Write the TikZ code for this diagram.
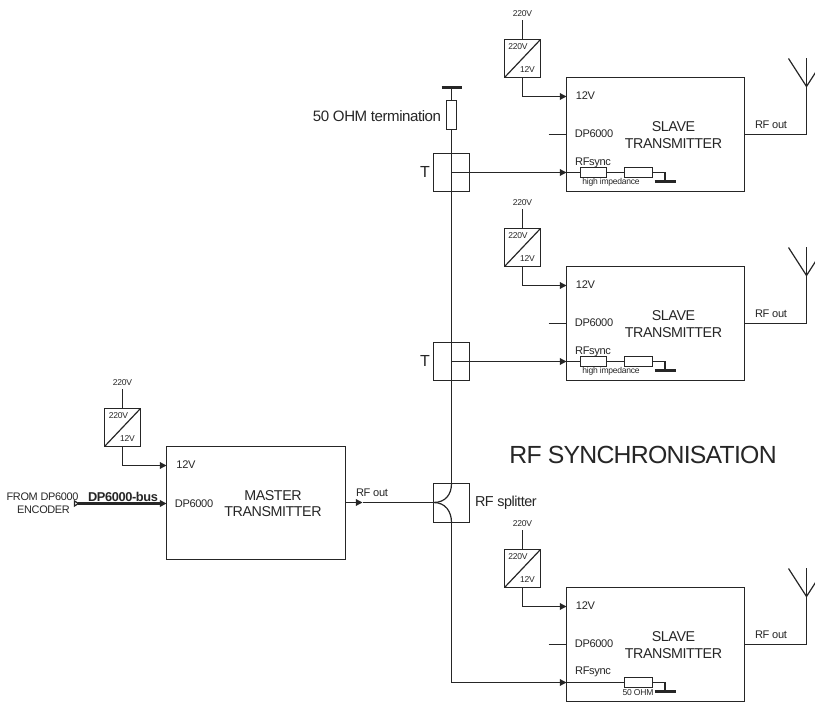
\documentclass[tikz,border=0pt]{standalone}
\usepackage{fontspec}
\usetikzlibrary{arrows.meta}
\newfontfamily\dgfont{Liberation Sans}[LetterSpace=-3]
\newcommand{\fs}[1]{\fontsize{#1}{#1}\selectfont\dgfont}
\colorlet{ink}{black!85}
\tikzset{
  x=0.75pt,y=-0.75pt,
  wire/.style={draw=ink,line width=0.9pt},
  inwire/.style={wire,-{Triangle[length=5pt,width=5pt]}},
  bar/.style={draw=ink,line width=2pt},
  boxn/.style={draw=ink,line width=0.9pt,inner sep=0pt,outer sep=0pt,fill=none},
  txbox/.style={boxn,minimum width=133.5pt,minimum height=85.5pt},
  conv/.style={boxn,minimum width=27pt,minimum height=28.5pt},
  tbox/.style={boxn,minimum width=27pt,minimum height=28.5pt},
  resa/.style={boxn,minimum width=19.5pt,minimum height=7.5pt},
  resb/.style={boxn,minimum width=21pt,minimum height=7.5pt},
  lbl/.style={text=ink,inner sep=0pt,outer sep=0pt,align=center},
  tiny/.style={lbl,font=\fs{6.4}},
  small/.style={lbl,font=\fs{8.3}},
  big/.style={lbl,font=\fs{10.7}},
}
\newcommand{\slaveunit}[2]{%
\begin{scope}[shift={(0,#2)}]
  \node[txbox] (#1box) at (655,134) {};
  \node[conv] (#1conv) at (522,58) {};
  \node[tiny] (#1mains) at (522,13) {220V};
  \node[tiny] at (517.5,46) {220V};
  \node[tiny] at (527,69.5) {12V};
  \draw[wire] (#1conv.south west) -- (#1conv.north east);
  \coordinate (#1top) at (522,20);
  \draw[wire] (#1top) -- (#1conv.north);
  \coordinate (#1pin) at (#1box.west |- 0,96);
  \draw[inwire] (#1conv.south) |- (#1pin);
  \node[small] at (585,95.5) {12V};
  \node[small] at (593.5,133.5) {DP6000};
  \coordinate (#1dp) at (548,134);
  \draw[wire] (#1dp) -- (#1box.west);
  \node[big] at (673,134.5) {SLAVE\\[1.6pt]TRANSMITTER};
  \coordinate (#1ant) at (806,134);
  \draw[wire] (#1box.east) -- (#1ant);
  \node[small] at (770.5,124.5) {RF out};
  \coordinate (#1anttop) at (806,58);
  \coordinate (#1antjoin) at (806,86);
  \coordinate (#1antl) at (788,58);
  \coordinate (#1antr) at (815,72);
  \draw[wire] (#1ant) -- (#1anttop);
  \draw[wire] (#1antl) -- (#1antjoin) -- (#1antr);
\end{scope}}
\begin{document}
\begin{tikzpicture}
\path[use as bounding box] (0,0) rectangle (815,702);
\begin{scope}[shift={(0.5,0.5)}]

\slaveunit{a}{0}
\slaveunit{b}{189}
\slaveunit{c}{510}

% first slave RF sync
\node[tbox] (t1) at (451,172) {};
\node[lbl,font=\fs{12}] (t1l) at (424.5,171.5) {T};
\coordinate (t1c) at (451,172);
\coordinate (a2) at (566,172);
\node[resa] (a3) at (593,172) {};
\node[resb] (a4) at (638,172) {};
\coordinate (a5) at (664.5,181);
\draw[inwire] (t1c) -- (a2);
\draw[wire] (a2) -- (a3);
\draw[wire] (a3) -- (a4);
\draw[wire] (a4.east) -| (a5);
\coordinate (a6) at (654,181); \coordinate (a7) at (675,181);
\draw[bar] (a6) -- (a7);
\node[small] at (592.5,162.5) {RFsync};
\node[tiny] at (610.5,181.5) {high impedance};

% second slave RF sync
\node[tbox] (t2) at (451,361) {};
\node[lbl,font=\fs{12}] (t2l) at (424.5,360.5) {T};
\coordinate (t2c) at (451,361);
\coordinate (b2) at (566,361);
\node[resa] (b3) at (593,361) {};
\node[resb] (b4) at (638,361) {};
\coordinate (b5) at (664.5,370);
\draw[inwire] (t2c) -- (b2);
\draw[wire] (b2) -- (b3);
\draw[wire] (b3) -- (b4);
\draw[wire] (b4.east) -| (b5);
\coordinate (b6) at (654,370); \coordinate (b7) at (675,370);
\draw[bar] (b6) -- (b7);
\node[small] at (592.5,351.5) {RFsync};
\node[tiny] at (610.5,370.5) {high impedance};

% third slave RF sync
\coordinate (c0) at (451,682);
\coordinate (c2) at (566,682);
\node[resb] (c4) at (638,682) {};
\coordinate (c5) at (664.5,691);
\node[small] at (592.5,671.5) {RFsync};
\node[tiny] at (637.5,692) {50 OHM};
\draw[inwire] (c0) -- (c2);
\draw[wire] (c2) -- (c4);
\draw[wire] (c4.east) -| (c5);
\coordinate (c6) at (654,691); \coordinate (c7) at (675,691);
\draw[bar] (c6) -- (c7);

% termination and bus
\coordinate (endl) at (441,87); \coordinate (endr) at (461,87);
\coordinate (endc) at (451,87);
\draw[bar] (endl) -- (endr);
\node[boxn,minimum width=7.5pt,minimum height=21.75pt] (term) at (451,114.5) {};
\node[lbl,font=\fs{11.3},anchor=east] (terml) at (440.5,115.5) {50 OHM termination};
\node[tbox,minimum height=29.25pt] (split) at (451,502.5) {};
\node[lbl,font=\fs{10.8},anchor=west] (splitl) at (474.5,502.5) {RF splitter};
\draw[wire] (endc) -- (term);
\draw[wire] (term) -- (t1c);
\draw[wire] (t1c) -- (split.north);
\draw[wire] (split.south) -- (c0);
\coordinate (sc) at (433,502);
\draw[wire] (sc) .. controls (445,502) and (451,494) .. (split.north);
\draw[wire] (sc) .. controls (445,502) and (451,511) .. (split.south);

% master
\node[txbox,minimum width=134.25pt,minimum height=84.75pt] (mbox) at (255.5,502.5) {};
\node[conv] (mconv) at (122,427) {};
\node[tiny] (mmains) at (122,382.5) {220V};
\node[tiny] at (118,415) {220V};
\node[tiny] at (127,438.5) {12V};
\coordinate (mtop) at (122,389);
\draw[wire] (mtop) -- (mconv.north);
\draw[wire] (mconv.south west) -- (mconv.north east);
\coordinate (mpin) at (166,465);
\draw[inwire] (mconv.south) |- (mpin);
\node[small] at (185.5,464.5) {12V};
\node[small] at (193.5,503.5) {DP6000};
\node[big] at (272.5,503) {MASTER\\[1.6pt]TRANSMITTER};
\coordinate (bus0) at (77,503);
\coordinate (mdp) at (166,503);
\draw[draw=ink,line width=1.6pt,-{Triangle[length=5pt,width=5pt]}] (bus0) -- (mdp);
\draw[wire,fill=white] (78,503) -- (74,500.5) -- (74,505.5) -- cycle;
\node[lbl,font=\fs{9.6}\bfseries] at (122.5,496.5) {DP6000-bus};
\node[lbl,font=\fs{8.2}] at (42,496.5) {FROM DP6000};
\node[lbl,font=\fs{8.2}] at (43,509.5) {ENCODER};
\coordinate (rfm) at (362,502);
\draw[inwire] (mbox.east |- rfm) -- (rfm);
\draw[wire] (rfm) -- (sc);
\node[small] at (371.5,492.5) {RF out};

\node[lbl,font=\fs{18.6}] at (642.5,454.5) {RF SYNCHRONISATION};
\end{scope}
\end{tikzpicture}
\end{document}
